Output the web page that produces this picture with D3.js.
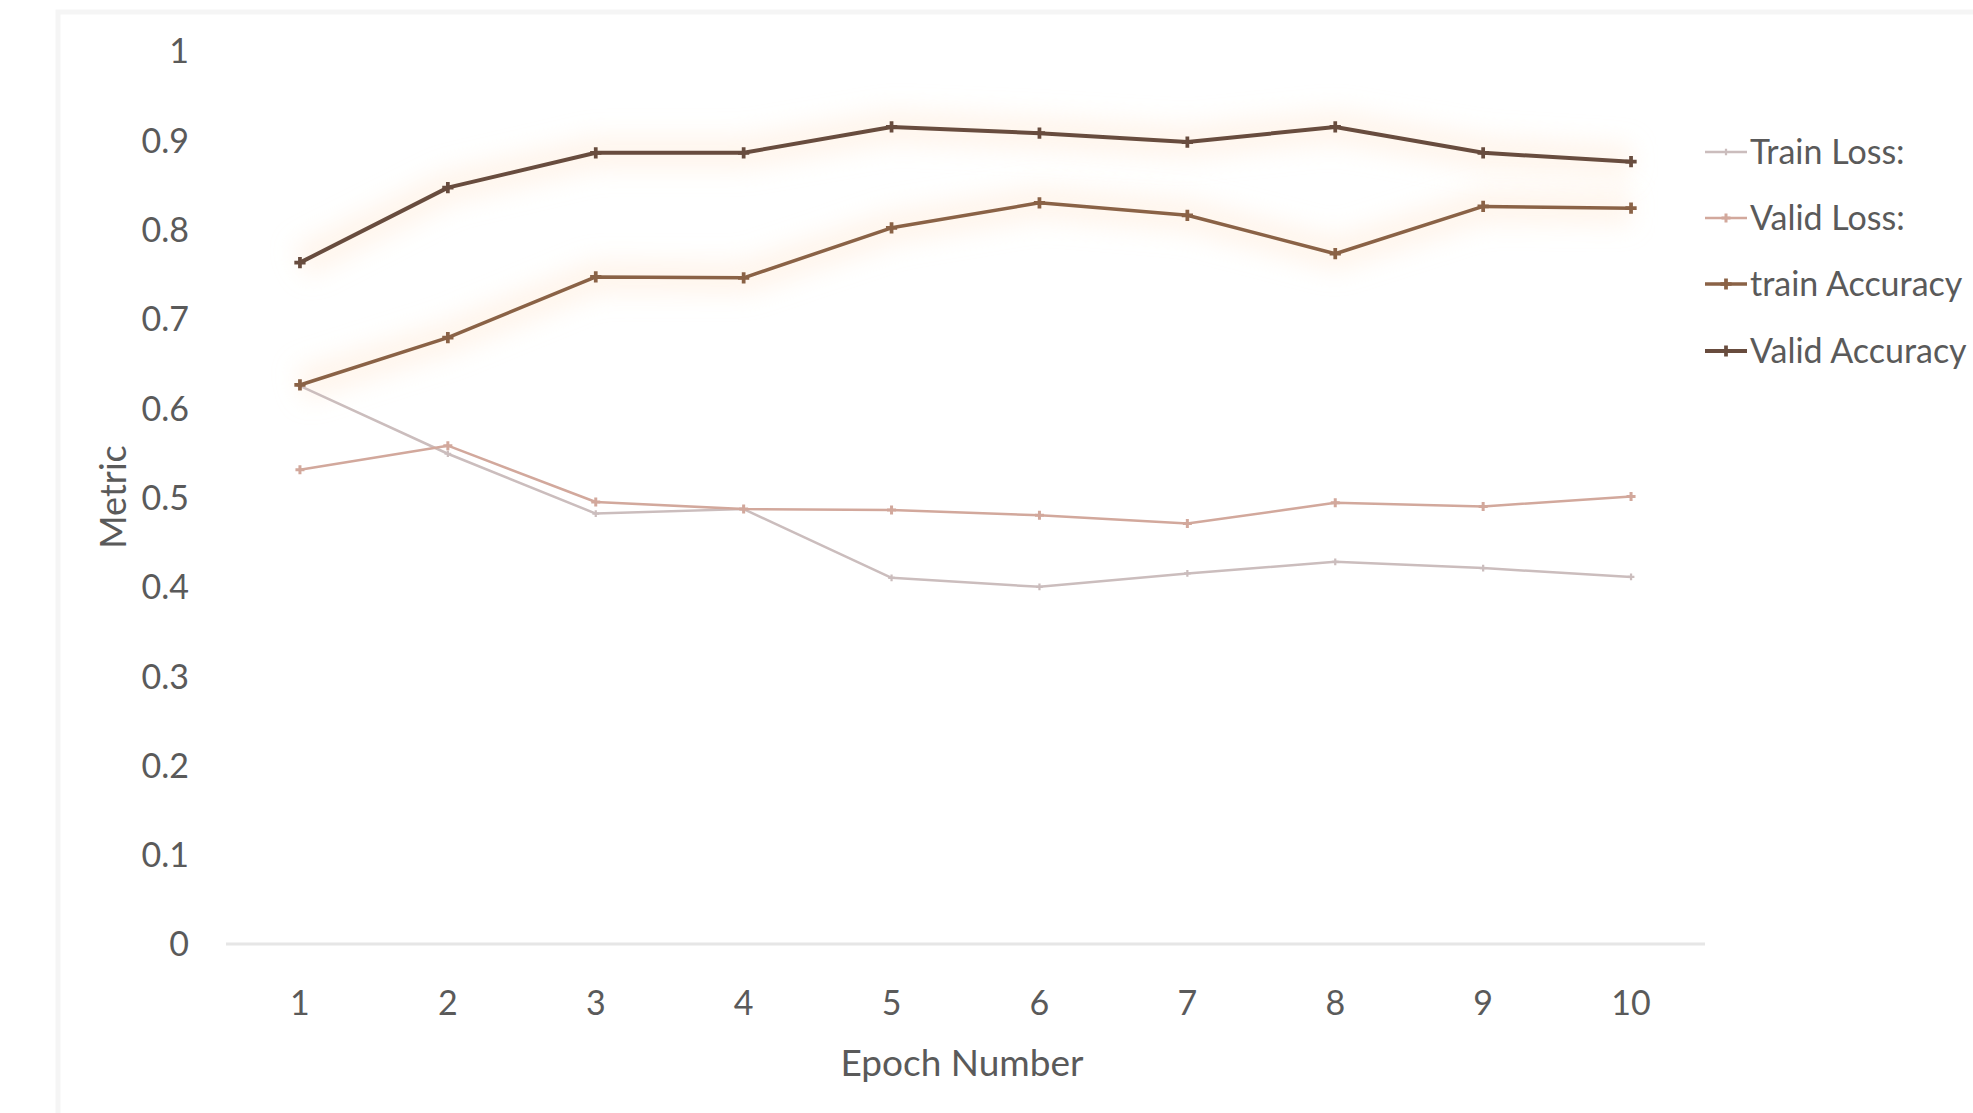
<!DOCTYPE html>
<html>
<head>
<meta charset="utf-8">
<script src="https://cdn.jsdelivr.net/npm/d3@7"></script>
<style>
  html, body { margin: 0; padding: 0; background: #ffffff; overflow: hidden; }
  svg { display: block; }
  text { font-family: Lato, "Open Sans", sans-serif; fill: #5a5a5a; }
</style>
</head>
<body>
<svg id="chart" width="1973" height="1113"></svg>
<script>
// ---- data ----
const epochs = [1, 2, 3, 4, 5, 6, 7, 8, 9, 10];
const trainLoss     = [0.625, 0.549, 0.482, 0.487, 0.410, 0.400, 0.415, 0.428, 0.421, 0.411];
const validLoss     = [0.531, 0.558, 0.495, 0.487, 0.486, 0.480, 0.471, 0.494, 0.490, 0.501];
const trainAccuracy = [0.626, 0.679, 0.747, 0.746, 0.802, 0.830, 0.816, 0.773, 0.826, 0.824];
const validAccuracy = [0.763, 0.847, 0.886, 0.886, 0.915, 0.908, 0.898, 0.915, 0.886, 0.876];
const seriesNames   = ["Train Loss:", "Valid Loss:", "train Accuracy", "Valid Accuracy"];
const yTickValues   = [0, 0.1, 0.2, 0.3, 0.4, 0.5, 0.6, 0.7, 0.8, 0.9, 1];
const yTickLabels   = ["0", "0.1", "0.2", "0.3", "0.4", "0.5", "0.6", "0.7", "0.8", "0.9", "1"];
const xTitle = "Epoch Number";
const yTitle = "Metric";

const series = [
  { name: seriesNames[0], values: trainLoss,     color: "#cbbdbd", width: 2.5, marker: 25, glow: false },
  { name: seriesNames[1], values: validLoss,     color: "#d2a89c", width: 2.5, marker: 45, glow: false },
  { name: seriesNames[2], values: trainAccuracy, color: "#8a6246", width: 3.5, marker: 70, glow: true },
  { name: seriesNames[3], values: validAccuracy, color: "#684c3e", width: 4,   marker: 70, glow: true }
];

const svg = d3.select("#chart");

// faint frame
svg.append("rect")
  .attr("x", 58).attr("y", 12).attr("width", 2000).attr("height", 1200)
  .attr("fill", "#ffffff").attr("stroke", "#f5f5f5").attr("stroke-width", 5);

const defs = svg.append("defs");
defs.append("filter").attr("id", "blur")
  .attr("x", "-20%").attr("y", "-50%").attr("width", "140%").attr("height", "200%")
  .append("feGaussianBlur").attr("stdDeviation", 12);

// ---- scales ----
const x = d3.scaleBand().domain(epochs).range([226, 1705]);
const y = d3.scaleLinear().domain([0, 1]).range([944, 51]);
const cx = d => x(d) + x.bandwidth() / 2;

// baseline axis line
svg.append("line")
  .attr("x1", 226).attr("x2", 1705)
  .attr("y1", y(0)).attr("y2", y(0))
  .attr("stroke", "#e6e6e6").attr("stroke-width", 3);

// y axis
const yAxis = d3.axisLeft(y)
  .tickValues(yTickValues)
  .tickFormat((d, i) => yTickLabels[i])
  .tickSize(0).tickPadding(0);
const gy = svg.append("g").attr("transform", "translate(189,0)").call(yAxis);
gy.select(".domain").remove();
gy.selectAll("text")
  .style("font-family", "Lato, 'Open Sans', sans-serif")
  .style("font-size", "34px").attr("fill", "#5a5a5a").attr("dy", "0.35em");

// x axis
const xAxis = d3.axisBottom(x).tickSize(0).tickPadding(0);
const gx = svg.append("g").attr("transform", "translate(0,988)").call(xAxis);
gx.select(".domain").remove();
gx.selectAll("text")
  .style("font-family", "Lato, 'Open Sans', sans-serif")
  .style("font-size", "34px").attr("fill", "#5a5a5a").attr("dy", "0.35em").attr("y", 15);

// axis titles
svg.append("text")
  .attr("x", 962).attr("y", 1063).attr("dy", "0.35em")
  .attr("text-anchor", "middle").style("font-size", "37px").text(xTitle);
svg.append("text")
  .attr("transform", "translate(113,497) rotate(-90)").attr("dy", "0.35em")
  .attr("text-anchor", "middle").style("font-size", "36px").text(yTitle);

// ---- lines ----
const line = d3.line().x((d, i) => cx(epochs[i])).y(d => y(d));

// soft glow behind accuracy lines
series.filter(s => s.glow).forEach(s => {
  svg.append("path").datum(s.values)
    .attr("d", line).attr("fill", "none")
    .attr("stroke", "#ffe6cf").attr("stroke-opacity", 0.4)
    .attr("stroke-width", 34).attr("filter", "url(#blur)");
});

series.forEach(s => {
  svg.append("path").datum(s.values)
    .attr("d", line).attr("fill", "none")
    .attr("stroke", s.color).attr("stroke-width", s.width)
    .attr("stroke-linejoin", "round");
  svg.append("g").selectAll("path.m").data(s.values).join("path")
    .attr("transform", (d, i) => `translate(${cx(epochs[i])},${y(d)})`)
    .attr("d", d3.symbol(d3.symbolCross, s.marker)())
    .attr("fill", s.color);
});

// ---- legend ----
const legendY = [152, 218, 284, 351];
const lg = svg.append("g");
series.forEach((s, i) => {
  const gi = lg.append("g").attr("transform", `translate(0,${legendY[i]})`);
  gi.append("line").attr("x1", 1705).attr("x2", 1747).attr("y1", 0).attr("y2", 0)
    .attr("stroke", s.color).attr("stroke-width", s.width);
  gi.append("path").attr("transform", "translate(1726,0)")
    .attr("d", d3.symbol(d3.symbolCross, s.marker)())
    .attr("fill", s.color);
  gi.append("text").attr("x", 1750).attr("y", 0).attr("dy", "0.35em")
    .style("font-size", "34px").text(s.name);
});
</script>
</body>
</html>
